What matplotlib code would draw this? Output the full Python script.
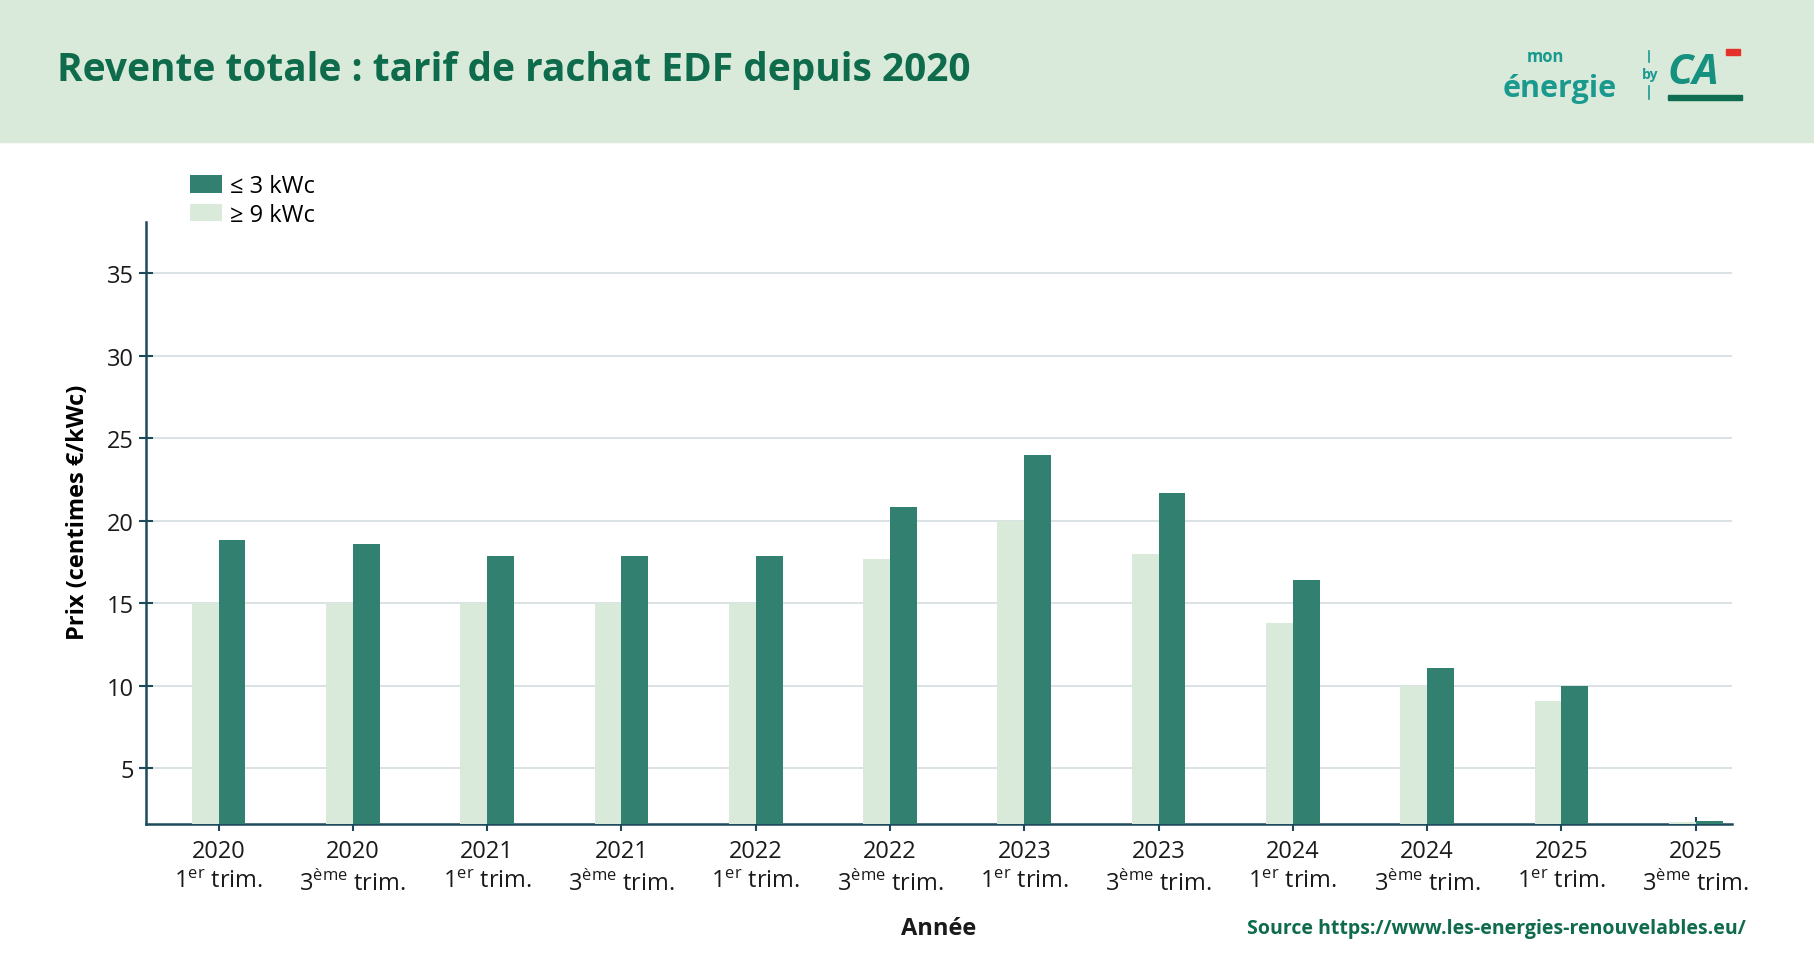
import matplotlib
matplotlib.use("Agg")
import numpy as np
from matplotlib import pyplot as plt
from matplotlib.patches import Rectangle

plt.rcParams['font.family'] = ['Open Sans', 'DejaVu Sans']
plt.rcParams['mathtext.fontset'] = 'custom'
plt.rcParams['mathtext.rm'] = 'Open Sans'

years = ['2020', '2020', '2021', '2021', '2022', '2022',
         '2023', '2023', '2024', '2024', '2025', '2025']
quarters = ['1er', '3ème'] * 6
small_kwc = [18.8, 18.6, 17.85, 17.85, 17.85, 20.8, 24.0, 21.65, 16.4, 11.05, 10.0, 1.8]
large_kwc = [15.0, 15.0, 15.0, 15.0, 15.0, 17.7, 20.0, 18.0, 13.8, 10.0, 9.05, 1.72]

DARK = '#32806f'
LIGHT = '#d9eada'
AXIS = '#1d4a5a'
GREEN_TXT = '#0e6b4b'
LOGO = '#1a9a8f'

fig = plt.figure(figsize=(18.14, 9.78), dpi=100)

# header band
fig.patches.append(Rectangle((0, 1 - 143 / 978), 1, 143 / 978, transform=fig.transFigure,
                             color='#d9eada', zorder=0))
fig.text(57 / 1814, 1 - 70 / 978, 'Revente totale : tarif de rachat EDF depuis 2020',
         fontsize=28, fontweight='bold', color=GREEN_TXT, va='center', ha='left')

# logo (simplified)
fig.text(1503 / 1814, 1 - 89 / 978, 'énergie', fontsize=22, fontweight='bold',
         color=LOGO, va='center', ha='left')
fig.text(1527 / 1814, 1 - 57 / 978, 'mon', fontsize=12, fontweight='bold',
         color=LOGO, va='center', ha='left')
fig.text(1650 / 1814, 1 - 75 / 978, 'by', fontsize=10, fontweight='bold',
         color=LOGO, va='center', ha='center')
for y0, y1 in [(52, 63), (87, 100)]:
    fig.add_artist(plt.Line2D([1649 / 1814, 1649 / 1814], [1 - y0 / 978, 1 - y1 / 978],
                              transform=fig.transFigure, color=LOGO, lw=1.2))
fig.text(1668 / 1814, 1 - 74 / 978, 'CA', fontsize=30, fontweight='bold', style='italic',
         color='#16907f', va='center', ha='left')
fig.add_artist(Rectangle((1668 / 1814, 1 - 101 / 978), 74 / 1814, 5 / 978,
                         transform=fig.transFigure, color='#0f6e52'))
fig.add_artist(Rectangle((1726 / 1814, 1 - 56 / 978), 14 / 1814, 6 / 978,
                         transform=fig.transFigure, color='#e4322b'))

ax = fig.add_axes([146 / 1814, 1 - 825 / 978, (1732 - 146) / 1814, (825 - 223) / 978])

x = np.arange(len(years))
w = 0.2
ax.bar(x - w / 2, large_kwc, width=w, color=LIGHT, label='≥ 9 kWc', zorder=3)
ax.bar(x + w / 2, small_kwc, width=w, color=DARK, label='≤ 3 kWc', zorder=3)

ax.set_xlim(-0.54, 11.27)
ax.set_ylim(1.61, 38.1)
ax.set_yticks([5, 10, 15, 20, 25, 30, 35])
ax.yaxis.grid(True, color='#d3dde1', lw=1.2, zorder=0)

labels = []
for y, q in zip(years, quarters):
    if q == '1er':
        labels.append(y + '\n1$^{\\mathrm{er}}$ trim.')
    else:
        labels.append(y + '\n3$^{\\mathrm{ème}}$ trim.')
ax.set_xticks(x)
ax.set_xticklabels(labels, fontsize=17, linespacing=1.3)
ax.tick_params(axis='both', direction='inout', length=10, width=1.5, color=AXIS,
               labelsize=17, labelcolor='#1a1a1a')
ax.tick_params(axis='x', pad=6)

for s in ['top', 'right']:
    ax.spines[s].set_visible(False)
for s in ['left', 'bottom']:
    ax.spines[s].set_color(AXIS)
    ax.spines[s].set_linewidth(1.8)

ax.set_ylabel('Prix (centimes €/kWc)', fontsize=17, fontweight='bold', labelpad=12)
ax.yaxis.label.set_y(0.52)

handles, lbls = ax.get_legend_handles_labels()
ax.legend(handles[::-1], lbls[::-1], loc='upper left', bbox_to_anchor=(0.022, 1.095),
          frameon=False, fontsize=17, handlelength=1.35, handleheight=0.75,
          handletextpad=0.35, labelspacing=0.2, borderaxespad=0)

fig.text(939 / 1814, 1 - 929 / 978, 'Année', fontsize=17, fontweight='bold',
         ha='center', va='center', color='#1a1a1a')
fig.text(1746 / 1814, 1 - 929 / 978, 'Source https://www.les-energies-renouvelables.eu/',
         fontsize=14, fontweight='bold', ha='right', va='center', color=GREEN_TXT)

fig.savefig('out.png', dpi=100)
